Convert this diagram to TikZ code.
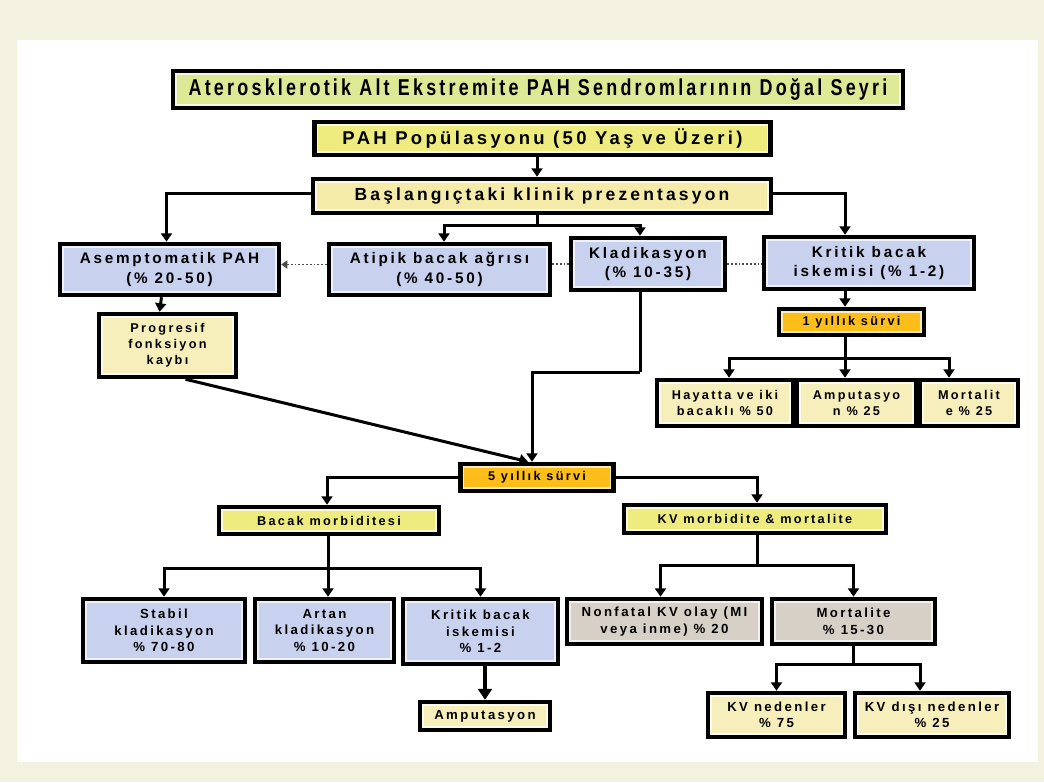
\documentclass[tikz,border=0pt]{standalone}
\usepackage{fontspec}
\setmainfont{Liberation Sans}[LetterSpace=18]
\newfontfamily\titlef{Liberation Sans}[FakeStretch=0.78,LetterSpace=14]
\usetikzlibrary{arrows.meta}
\definecolor{cream}{HTML}{F3F2E0}
\definecolor{titlecol}{HTML}{DEE995}
\definecolor{yel}{HTML}{EEEC7E}
\definecolor{paleyel}{HTML}{F5EBA8}
\definecolor{blu}{HTML}{C8D1EE}
\definecolor{gold}{HTML}{FDBE1A}
\definecolor{gry}{HTML}{D6D0C6}
\definecolor{pale}{HTML}{F6EFBB}
\tikzset{
  bx/.style={draw=black, line width=4.5pt, fill=#1!30!white, inner sep=1pt, align=center,
    path picture={\fill[#1] ([shift={(3.8pt,-3.8pt)}]path picture bounding box.north west) rectangle ([shift={(-3.8pt,3.8pt)}]path picture bounding box.south east);}},
  arr/.style={line width=3pt, -{Triangle[width=11pt,length=8.5pt]}},
  ln/.style={line width=3pt},
  arrthick/.style={line width=4.5pt, -{Triangle[width=14pt,length=11pt]}},
  dotln/.style={line width=1.8pt, dotted, draw=black!70},
  dotarr/.style={line width=1.8pt, dotted, draw=black!70, -{Triangle[width=8pt,length=6pt]}},
}
\newcommand{\fbig}{\fontsize{17.5}{21}\selectfont\bfseries}
\newcommand{\fmed}{\fontsize{15.3}{19.5}\selectfont\bfseries}
\newcommand{\fsm}{\fontsize{12.7}{16}\selectfont\bfseries}
\newcommand{\fsmm}{\fontsize{13.2}{16.5}\selectfont\bfseries}
\begin{document}
\begin{tikzpicture}[x=1pt,y=-1pt]
\useasboundingbox (0,0) rectangle (1044,782);
\fill[cream] (0,0) rectangle (1044,782);
\fill[white] (17,40) rectangle (1038,762);

% nodes
\node[bx=titlecol, minimum width=730pt, minimum height=37pt, font={\titlef\fontsize{23}{27}\selectfont\bfseries}] (title) at (538,89.5) {Aterosklerotik Alt Ekstremite PAH Sendromlarının Doğal Seyri};
\node[bx=yel, minimum width=456pt, minimum height=33pt, font={\fontsize{18.5}{22}\selectfont\bfseries}] (pop) at (542.5,138.5) {PAH Popülasyonu (50 Yaş ve Üzeri)};
\node[bx=paleyel, minimum width=458pt, minimum height=34pt, font=\fbig] (basl) at (542,196) {Başlangıçtaki klinik prezentasyon};

\node[bx=blu, minimum width=219pt, minimum height=51pt, font=\fmed] (asem) at (169.5,269.5) {Asemptomatik PAH\\(\% 20-50)};
\node[bx=blu, minimum width=221pt, minimum height=51pt, font=\fmed] (atip) at (439.5,269.5) {Atipik bacak ağrısı\\(\% 40-50)};
\node[bx=blu, minimum width=154pt, minimum height=52pt, font=\fmed] (klad) at (648,264) {Kladikasyon\\(\% 10-35)};
\node[bx=blu, minimum width=210pt, minimum height=52pt, font=\fmed] (krit) at (869,263) {Kritik bacak\\iskemisi (\% 1-2)};

\node[bx=pale, minimum width=137pt, minimum height=63pt, font=\fsm] (prog) at (167.5,345.5) {Progresif\\fonksiyon\\kaybı};
\node[bx=gold, minimum width=145pt, minimum height=26pt, font=\fsm] (y1) at (851.5,322) {1 yıllık sürvi};
\node[bx=pale, minimum width=136pt, minimum height=46pt, font=\fsm] (hay) at (725,403) {Hayatta ve iki\\bacaklı \% 50};
\node[bx=pale, minimum width=119pt, minimum height=46pt, font=\fsm] (amp1) at (856.5,403) {Amputasyo\\n \% 25};
\node[bx=pale, minimum width=98pt, minimum height=46pt, font=\fsm] (mort1) at (969,403) {Mortalit\\e \% 25};

\node[bx=gold, minimum width=153pt, minimum height=27pt, font=\fsm] (y5) at (537,477.5) {5 yıllık sürvi};
\node[bx=yel, minimum width=220pt, minimum height=27pt, font=\fsm] (bacak) at (329,520.5) {Bacak morbiditesi};
\node[bx=yel, minimum width=262pt, minimum height=28pt, font=\fsm] (kvm) at (755,519) {KV morbidite \& mortalite};

\node[bx=blu, minimum width=162pt, minimum height=63pt, font=\fsmm] (stab) at (164,630.5) {Stabil\\kladikasyon\\\% 70-80};
\node[bx=blu, minimum width=139pt, minimum height=63pt, font=\fsmm] (artan) at (324.5,630.5) {Artan\\kladikasyon\\\% 10-20};
\node[bx=blu, minimum width=155pt, minimum height=65pt, font=\fsmm] (krit2) at (480.5,631.5) {Kritik bacak\\iskemisi\\\% 1-2};
\node[bx=pale, minimum width=130pt, minimum height=28pt, font=\fsmm] (ampu) at (485,716) {Amputasyon};

\node[bx=gry, minimum width=195pt, minimum height=45pt, font=\fsmm] (nonf) at (664.5,621.5) {Nonfatal KV olay (MI\\veya inme) \% 20};
\node[bx=gry, minimum width=163pt, minimum height=45pt, font=\fsmm] (mort2) at (853.5,621.5) {Mortalite\\\% 15-30};
\node[bx=pale, minimum width=137pt, minimum height=44pt, font=\fsmm] (kvn) at (776.5,715) {KV nedenler\\\% 75};
\node[bx=pale, minimum width=154pt, minimum height=44pt, font=\fsmm] (kvd) at (932,715) {KV dışı nedenler\\\% 25};

% helper coordinates
\coordinate (xa) at (537,0);
\coordinate (xk) at (845,0);
\coordinate (j1) at (537,225);
\coordinate (j2) at (845,358);
\coordinate (j3) at (328,568);
\coordinate (j4) at (757,565);
\coordinate (j5) at (853,664);
\coordinate (k1) at (640,372);

% connectors
\draw[arr] (pop.south -| xa) -- (basl.north -| xa);
\draw[arr] ([yshift=3pt]basl.west) -| ([xshift=-3pt]asem.north);
\draw[arr] ([yshift=3pt]basl.east) -| (krit.north -| xk);
\draw[ln] (basl.south -| j1) -- (j1);
\draw[arr] (j1) -| ([xshift=4.5pt]atip.north);
\draw[arr] (j1) -| ([xshift=-8pt]klad.north);

\draw[dotarr] ([yshift=5pt]atip.west) -- ([yshift=5pt]asem.east);
\draw[dotln] (klad.west -| atip.east) -- (klad.west);
\draw[dotln] (klad.east) -- (klad.east -| krit.west);

\draw[arr] ([xshift=-8pt]asem.south) -- ([xshift=-8pt]prog.north);
\draw[arr] ([xshift=18pt]prog.south) -- ([xshift=-9pt]y5.north);
\draw[ln] ([xshift=-8pt]klad.south) -- (k1);
\draw[arr] (k1) -| ([xshift=-5pt]y5.north);

\draw[arr] (krit.south -| xk) -- (y1.north -| xk);
\draw[ln] (y1.south -| j2) -- (j2);
\draw[arr] (j2) -| ([xshift=4pt]hay.north);
\draw[arr] (j2) -- (amp1.north -| j2);
\draw[arr] (j2) -| ([xshift=-20pt]mort1.north);

\draw[arr] (y5.west) -| ([xshift=-2pt]bacak.north);
\draw[arr] (y5.east) -| ([xshift=2pt]kvm.north);

\draw[ln] (bacak.south -| j3) -- (j3);
\draw[arr] (j3) -| (stab.north);
\draw[arr] (j3) -- (artan.north -| j3);
\draw[arr] (j3) -| (krit2.north);
\draw[arrthick] (krit2.south -| ampu.north) -- (ampu.north);

\draw[ln] (kvm.south -| j4) -- (j4);
\draw[arr] (j4) -| ([xshift=-4pt]nonf.north);
\draw[arr] (j4) -| (mort2.north);

\draw[ln] (mort2.south -| j5) -- (j5);
\draw[arr] (j5) -| (kvn.north);
\draw[arr] (j5) -| ([xshift=-12pt]kvd.north);
\end{tikzpicture}
\end{document}
